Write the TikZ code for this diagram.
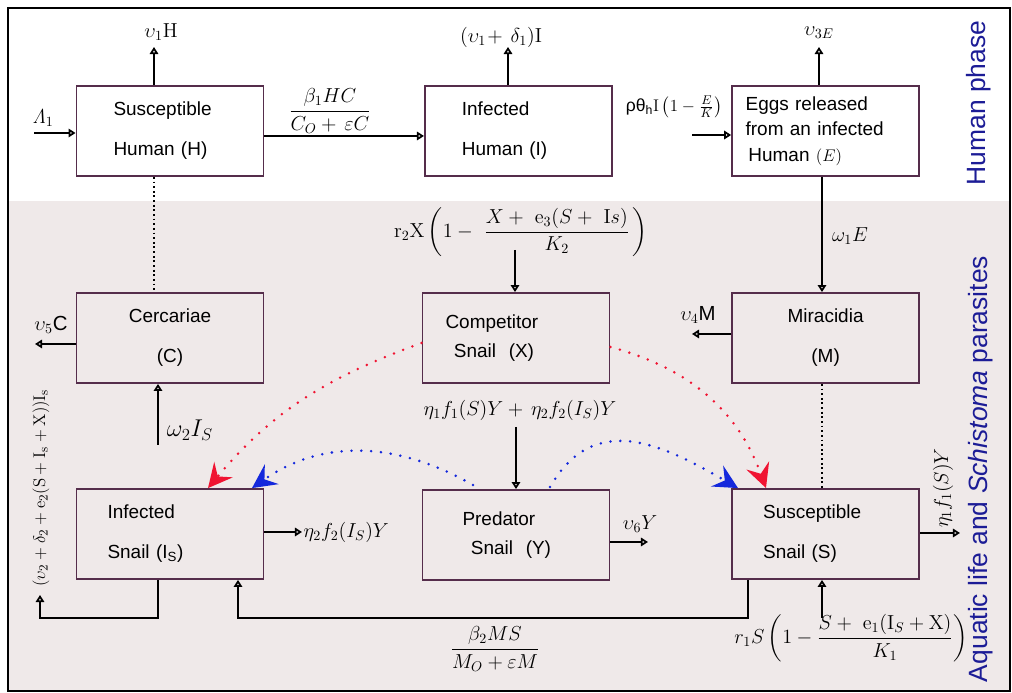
\documentclass[tikz,border=0pt]{standalone}
\usepackage{amsmath,amssymb}
\usepackage[no-math]{fontspec}
\newfontfamily\arial{Liberation Sans}
\usepackage{tikz}
\usetikzlibrary{positioning, arrows.meta, calc}
\definecolor{BoxPlum}{RGB}{85,45,75}
\definecolor{AquaBg}{RGB}{239,233,233}
\definecolor{PhaseBlue}{RGB}{28,28,150}
\definecolor{PathRed}{RGB}{240,20,50}
\definecolor{PathBlue}{RGB}{20,40,220}
\tikzset{
  box/.style={draw=BoxPlum, line width=1.3pt, minimum width=4.675cm, minimum height=2.25cm,
    inner sep=0pt, text width=#1, align=left, font=\arial\fontsize{13.5}{28.5}\selectfont},
  flow/.style={-{Triangle[open, length=5pt, width=6pt]}, line width=1.3pt},
  tie/.style={line width=1.3pt, dotted},
  lbl/.style={font=\fontsize{14.5}{16}\selectfont, inner sep=1pt},
  phase/.style={font=\arial\fontsize{18.8}{20}\selectfont, text=PhaseBlue, rotate=90},
  redpath/.style={PathRed, line width=2pt, dash pattern=on 0pt off 7pt, line cap=round,
    -{Stealth[length=0.6cm, width=0.6cm, inset=0.22cm]}},
  bluepath/.style={redpath, PathBlue},
}

\begin{document}
\begin{tikzpicture}
  \useasboundingbox (0,0) rectangle (25.3,17.325);
  \fill[AquaBg] (0.2,0.05) rectangle (25.25,12.3);
  \draw[line width=1.3pt] (0.2,0.05) rectangle (25.25,17.125);

  % compartments
  \node[box=2.825cm] (H) at (4.25,14.05) {Susceptible\\Human (H)};
  \node[box=2.825cm] (I) at (12.96,14.05) {Infected\\Human (I)};
  \node[box=4.0cm, font=\arial\fontsize{13.5}{18}\selectfont] (E) at (20.64,14.05)
    {Eggs released\\from an infected\\\hspace*{2pt}Human {\fontsize{11.5}{12}\selectfont$(E)$}};
  \node[box=3cm, align=center] (C) at (4.25,8.875) {Cercariae\\(C)};
  \node[box=3.525cm, font=\arial\fontsize{13.5}{20.5}\selectfont] (X) at (12.9,8.875)
    {Competitor\\\hspace*{6pt}Snail\ \ (X)};
  \node[box=3cm, align=center] (M) at (20.64,8.875) {Miracidia\\(M)};
  \node[box=3.125cm] (IS) at (4.25,3.975) {Infected\\Snail (I\textsubscript{S})};
  \node[box=2.675cm, font=\arial\fontsize{13.5}{20.5}\selectfont] (Y) at (12.9,3.95)
    {Predator\\\hspace*{6pt}Snail\ \ (Y)};
  \node[box=3.125cm] (S) at (20.64,3.975) {Susceptible\\Snail (S)};

  \node[phase] (hphase) at (24.475,14.75) {Human phase};
  \node[phase] (aphase) at (24.525,5.6) {Aquatic life and \textit{Schistoma} parasites};

  % free ends
  \coordinate (lam) at (0.85,14.0);
  \coordinate (hout) at (3.85,16.15);
  \coordinate (iout) at (12.7,16.15);
  \coordinate (eout) at (20.475,16.15);
  \coordinate (ein) at (17.3,13.95);
  \coordinate (hi) at (0,13.925);
  \coordinate (em) at (20.55,0);
  \coordinate (hc) at (3.85,0);
  \coordinate (cout) at (0.875,8.725);
  \coordinate (cin) at (3.95,6.2);
  \coordinate (xin) at (12.875,11.075);
  \coordinate (yin) at (12.9,6.65);
  \coordinate (mout) at (17.3,8.975);
  \coordinate (isr) at (7.55,4.025);
  \coordinate (yr) at (16.2,3.775);
  \coordinate (sr) at (24.0,4.0);
  \coordinate (sin) at (20.55,1.875);
  \coordinate (rail) at (0,1.875);
  \coordinate (isout) at (1.0,2.45);
  \coordinate (isd) at (3.95,0);
  \coordinate (sd) at (18.7,0);
  \coordinate (isu) at (5.95,0);

  % flows
  \draw[flow] (lam) -- (lam -| H.west);
  \draw[flow] (hout |- H.north) -- (hout);
  \draw[flow] (iout |- I.north) -- (iout);
  \draw[flow] (eout |- E.north) -- (eout);
  \draw[flow] (ein) -- (ein -| E.west);
  \draw[flow] (hi -| H.east) -- (hi -| I.west);
  \draw[flow] (em |- E.south) -- (em |- M.north);
  \draw[tie] (hc |- H.south) -- (hc |- C.north);
  \draw[tie] (em |- M.south) -- (em |- S.north);
  \draw[flow] (cout -| C.west) -- (cout);
  \draw[flow] (cin) -- (cin |- C.south);
  \draw[flow] (xin) -- (xin |- X.north);
  \draw[flow] (yin) -- (yin |- Y.north);
  \draw[flow] (mout -| M.west) -- (mout);
  \draw[flow] (isr -| IS.east) -- (isr);
  \draw[flow] (yr -| Y.east) -- (yr);
  \draw[flow] (sr -| S.east) -- (sr);
  \draw[flow] (sin) -- (sin |- S.south);
  \draw[flow] (isd |- IS.south) -- (isd |- rail) -| (isout);
  \draw[flow] (sd |- S.south) -- (sd |- rail) -| (isu |- IS.south);

  % predation / competition
  \draw[redpath] ($(X.west)+(0,-0.125)$) to[out=200, in=50] ($(IS.north)+(0.95,0)$);
  \draw[redpath] ($(X.east)+(0,-0.225)$) to[out=-15, in=110] ($(S.north)+(-1.49,0)$);
  \draw[bluepath] ($(Y.north)+(-1.075,0.1)$) to[out=150, in=35] ($(IS.north)+(2.05,0)$);
  \draw[bluepath] ($(Y.north)+(0.85,0.05)$) to[out=60, in=150, looseness=1.2] ($(S.north)+(-2.19,0)$);

  % rates
  \node[lbl] (lam-l) at (1.075,14.375) {$\mathit{\Lambda}_1$};
  \node[lbl] (hout-l) at (4.025,16.525) {$\upsilon_1\mathrm{H}$};
  \node[lbl] (hi-l) at (8.25,14.55) {$\dfrac{\beta_1HC}{C_O+\,\varepsilon C}$};
  \node[lbl] (iout-l) at (12.525,16.4) {$(\upsilon_1\!+\,\delta_1)\mathrm{I}$};
  \node[lbl, font=\fontsize{12.5}{14}\selectfont, inner sep=0pt] (ein-l) at (16.85,14.65)
    {{\arial ρθ\textsubscript{h}}$\mathrm{I}\,\bigl(1-\tfrac{E}{K}\bigr)$};
  \node[lbl] (eout-l) at (20.475,16.5) {$\upsilon_{3E}$};
  \node[lbl] (em-l) at (21.25,11.425) {$\omega_1E$};
  \node[lbl] (cout-l) at (1.275,9.2) {$\upsilon_5${\arial C}};
  \node[lbl, font=\fontsize{18}{20}\selectfont] (cin-l) at (4.75,6.575) {$\omega_2I_S$};
  \node[lbl] (xin-l) at (13.025,11.525)
    {$\mathrm{r_2X}\left(1-\ \dfrac{X+\ \mathrm{e}_3(S+\ \mathrm{I}s)}{K_2}\,\right)$};
  \node[lbl] (yin-l) at (13.0,7.075) {$\eta_1f_1(S)Y+\,\eta_2f_2(I_S)Y$};
  \node[lbl] (mout-l) at (17.45,9.45) {$\upsilon_4${\arial M}};
  \node[lbl, anchor=west] (isr-l) at (isr) {$\eta_2f_2(I_S)Y$};
  \node[lbl] (yr-l) at (16.0,4.225) {$\upsilon_6Y$};
  \node[lbl, rotate=90] (sr-l) at (23.575,5.125) {$\eta_1f_1(S)Y$};
  \node[lbl, font=\fontsize{14}{16}\selectfont] (sin-l) at (21.275,1.375)
    {$r_1S\left(1-\dfrac{S+\ \mathrm{e}_1(\mathrm{I}_S+\mathrm{X})}{K_1}\right)$};
  \node[lbl] (sd-l) at (12.375,1.1) {$\dfrac{\beta_2MS}{M_O+\varepsilon M}$};
  \node[lbl, rotate=90, font=\fontsize{12.5}{14}\selectfont] (isout-l) at (1.025,5.125)
    {$(\upsilon_2+\delta_2+\mathrm{e}_2(\mathrm{S}+\mathrm{I_s}+\mathrm{X}))\mathrm{I_s}$};
\end{tikzpicture}
\end{document}
